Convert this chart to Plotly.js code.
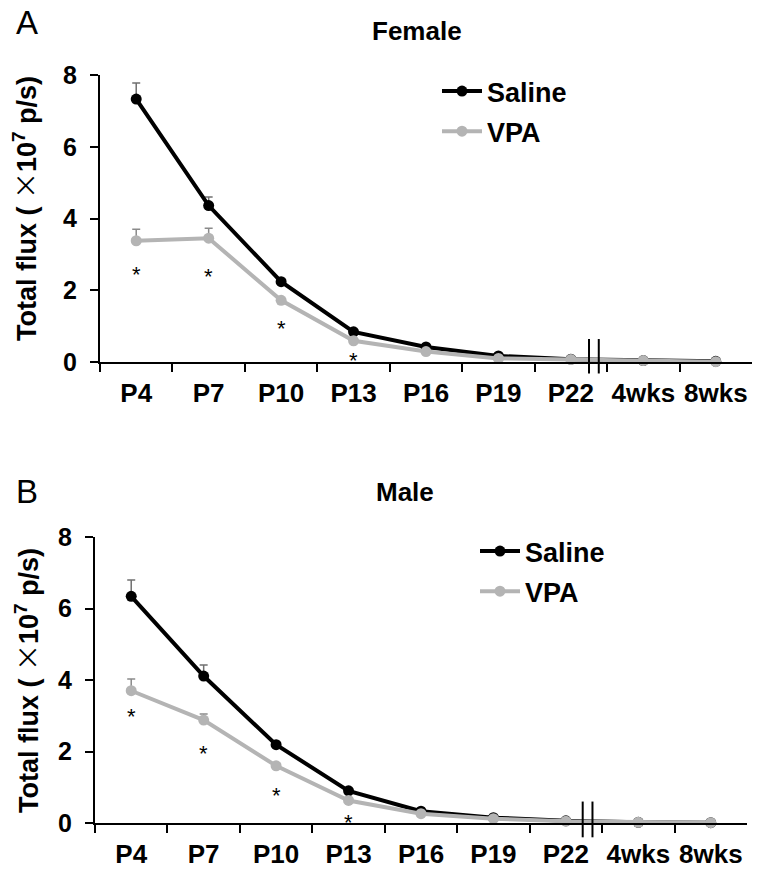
<!DOCTYPE html>
<html><head><meta charset="utf-8">
<script src="https://cdn.plot.ly/plotly-3.0.1.min.js"></script>
<style>html,body{margin:0;padding:0;background:#fff}</style>
</head><body><div id="chart" style="width:757px;height:872px"></div>
<script>
const categories = ['P4','P7','P10','P13','P16','P19','P22','4wks','8wks'];
const femaleSaline = [7.33,4.36,2.24,0.84,0.42,0.17,0.08,0.04,0.02];
const femaleSalineErr = [0.45,0.24,0.08,0.04,0.03,0.02,0.01,0.01,0.01];
const femaleVPA = [3.38,3.45,1.72,0.59,0.29,0.10,0.07,0.04,0.01];
const femaleVPAErr = [0.32,0.28,0.06,0.04,0.02,0.01,0.01,0.01,0.01];
const femaleSigCats = ['P4','P7','P10','P13'];
const femaleSigY = [2.61,2.56,1.09,0.20];
const maleSaline = [6.34,4.11,2.19,0.90,0.33,0.15,0.06,0.02,0.01];
const maleSalineErr = [0.46,0.31,0.06,0.05,0.03,0.02,0.01,0.01,0.01];
const maleVPA = [3.70,2.88,1.60,0.63,0.26,0.12,0.05,0.02,0.01];
const maleVPAErr = [0.33,0.17,0.08,0.04,0.02,0.01,0.01,0.01,0.01];
const maleSigCats = ['P4','P7','P10','P13'];
const maleSigY = [3.16,2.12,0.93,0.19];
const yTicks = [0,2,4,6,8];
const seriesNames = ['Saline','VPA'];
const yTitle = 'Total flux ( <span style="font-family:\'Noto Sans CJK SC\';font-weight:normal">\u00d7</span>10<sup>7</sup> p/s)';

const FONT = 'Arial, "Liberation Sans", sans-serif';
const BLACK = '#000000', GRAY = '#b4b4b4';

function lineTrace(y, err, name, color, xa, ya, leg, errColor) {
  return {
    type: 'scatter', mode: 'lines+markers', x: categories, y: y, name: name,
    xaxis: xa, yaxis: ya, legend: leg, legendgroup: leg + name,
    line: {color: color, width: 4},
    marker: {color: color, size: 11},
    cliponaxis: false,
    error_y: {type: 'data', symmetric: false, array: err, arrayminus: err.map(() => 0),
              color: errColor, thickness: 1.5, width: 4}
  };
}
function sigAnnotations(cats, ys, xa, ya) {
  return cats.map((c, i) => ({
    text: '*', x: c, y: ys[i], xref: xa, yref: ya, showarrow: false,
    xanchor: 'center', yanchor: 'middle', yshift: -6,
    font: {family: FONT, size: 22, color: '#000'}
  }));
}

const traces = [
  lineTrace(femaleSaline, femaleSalineErr, seriesNames[0], BLACK, 'x', 'y', 'legend', '#707070'),
  lineTrace(femaleVPA, femaleVPAErr, seriesNames[1], GRAY, 'x', 'y', 'legend', '#8a8a8a'),
  lineTrace(maleSaline, maleSalineErr, seriesNames[0], BLACK, 'x2', 'y2', 'legend2', '#707070'),
  lineTrace(maleVPA, maleVPAErr, seriesNames[1], GRAY, 'x2', 'y2', 'legend2', '#8a8a8a')
];

function xAxis(domain, anchor) {
  return {
    domain: domain, anchor: anchor, type: 'category', categoryorder: 'array', categoryarray: categories,
    range: [-0.5, 8.5], tickson: 'boundaries', ticks: 'outside', ticklen: 8, tickwidth: 2, tickcolor: '#000',
    showline: true, linewidth: 2, linecolor: '#000', showgrid: false, zeroline: false,
    tickangle: 0, ticklabelstandoff: 7,
    tickfont: {family: FONT, size: 26, color: '#000', weight: 'bold'}, automargin: false, fixedrange: true
  };
}
function yAxis(domain, anchor) {
  return {
    domain: domain, anchor: anchor, range: [0, 8], tickvals: yTicks, ticktext: yTicks.map(String),
    ticks: 'outside', ticklen: 8, tickwidth: 2, tickcolor: '#000',
    showline: true, linewidth: 2, linecolor: '#000', showgrid: false, zeroline: false,
    ticklabelstandoff: 8,
    tickfont: {family: FONT, size: 25, color: '#000', weight: 'bold'}, automargin: false, fixedrange: true
  };
}
function legendCfg(x, y) {
  return {x: x, y: y, xanchor: 'left', yanchor: 'top', bgcolor: 'rgba(0,0,0,0)',
          font: {family: FONT, size: 27, color: '#000', weight: 'bold'},
          tracegroupgap: 2, itemwidth: 40, traceorder: 'grouped'};
}
function breakShapes(xa, ya, xs, y0, y1) {
  return xs.map(x => ({type: 'line', xref: xa + ' domain', yref: ya + ' domain',
    x0: x, x1: x, y0: y0, y1: y1, line: {color: '#000', width: 2}}));
}
function yTitleAnn(px, py) {
  return {text: yTitle, xref: 'paper', yref: 'paper', x: px/757, y: 1 - py/872,
    xanchor: 'center', yanchor: 'middle', textangle: -90, showarrow: false,
    font: {family: FONT, size: 27, color: '#000', weight: 'bold'}};
}

const layout = {
  width: 757, height: 872, margin: {l: 0, r: 0, t: 0, b: 0},
  paper_bgcolor: '#fff', plot_bgcolor: 'rgba(0,0,0,0)',
  font: {family: FONT, color: '#000'},
  xaxis: xAxis([100/757, 752/757], 'y'),
  yaxis: yAxis([1 - 362/872, 1 - 75/872], 'x'),
  xaxis2: xAxis([95/757, 747/757], 'y2'),
  yaxis2: yAxis([1 - 823/872, 1 - 537/872], 'x2'),
  legend: legendCfg(437/757, 1 - 67/872),
  legend2: legendCfg(475/757, 1 - 527/872),
  shapes: [].concat(breakShapes('x', 'y', [0.750, 0.765], -0.04, 0.08),
                    breakShapes('x2', 'y2', [0.748, 0.763], -0.05, 0.075)),
  annotations: [
    {text: 'A', xref: 'paper', yref: 'paper', x: 14/757, y: 1 - 22/872, xanchor: 'left', yanchor: 'middle',
     showarrow: false, font: {family: FONT, size: 33, color: '#000'}},
    {text: 'B', xref: 'paper', yref: 'paper', x: 14/757, y: 1 - 492/872, xanchor: 'left', yanchor: 'middle',
     showarrow: false, font: {family: FONT, size: 33, color: '#000'}},
    {text: 'Female', xref: 'paper', yref: 'paper', x: 417/757, y: 1 - 31/872, xanchor: 'center', yanchor: 'middle',
     showarrow: false, font: {family: FONT, size: 26, color: '#000', weight: 'bold'}},
    {text: 'Male', xref: 'paper', yref: 'paper', x: 405/757, y: 1 - 492/872, xanchor: 'center', yanchor: 'middle',
     showarrow: false, font: {family: FONT, size: 26, color: '#000', weight: 'bold'}},
    yTitleAnn(25, 209),
    yTitleAnn(26, 681)
  ].concat(sigAnnotations(femaleSigCats, femaleSigY, 'x', 'y'),
           sigAnnotations(maleSigCats, maleSigY, 'x2', 'y2')),
  showlegend: true
};

Plotly.newPlot('chart', traces, layout, {staticPlot: true, displayModeBar: false});
</script></body></html>
